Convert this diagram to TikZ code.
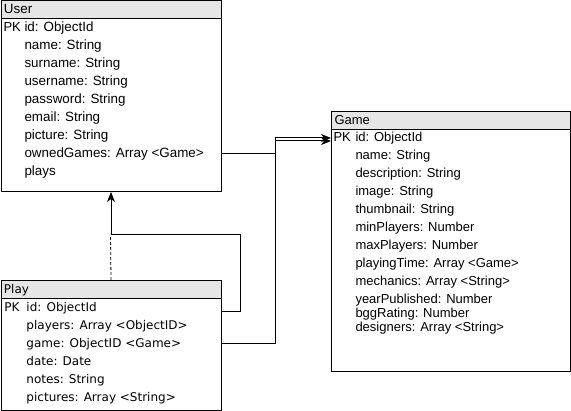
\documentclass[tikz,border=0pt]{standalone}
\usepackage{fontspec}
\setmainfont{Liberation Sans}
\newfontfamily\playfont{DejaVu Sans}
\usetikzlibrary{arrows.meta}

\begin{document}
\begin{tikzpicture}[x=1pt, y=-1pt, line width=1pt]

  % Define Colors
  \definecolor{headgray}{HTML}{E6E6E6}

  % Node styles
  \tikzstyle{tbox}=[rectangle, draw, anchor=north west, inner sep=0pt]
  \tikzstyle{thead}=[rectangle, draw, fill=headgray, anchor=north west, inner xsep=3pt, inner ysep=0pt, minimum height=18, align=left]
  \tikzstyle{fld}=[anchor=base west, inner sep=0pt, text height=10pt, text depth=2pt]
  \tikzstyle{ufld}=[fld, font=\fontsize{13.4}{15}\selectfont]
  \tikzstyle{gfld}=[fld, font=\fontsize{13}{15}\selectfont]
  \tikzstyle{pfld}=[fld, font=\playfont\fontsize{12}{14}\selectfont]

  \tikzstyle{link}=[line width=1pt, -{Stealth[length=10pt, width=8pt, inset=3pt]}]
  \tikzstyle{dlink}=[line width=0.8pt, dash pattern=on 3pt off 2pt]

  \useasboundingbox (0,0) rectangle (571,411);

  % User
  \node[tbox, minimum width=220, minimum height=190.5] (user) at (0.5,0.5) {};
  \node[thead, ufld, anchor=north west, minimum width=220, text width=214] (user_h) at (0.5,0.5) {User};
  \node[gfld] (u_pk) at (3,32) {PK};
  \node[ufld] (u_id) at (24,32) {id: ObjectId};
  \node[ufld] (u_name) at (24,50) {name: String};
  \node[ufld] (u_surname) at (24,68) {surname: String};
  \node[ufld] (u_username) at (24,86) {username: String};
  \node[ufld] (u_password) at (24,104) {password: String};
  \node[ufld] (u_email) at (24,122) {email: String};
  \node[ufld] (u_picture) at (24,140) {picture: String};
  \node[ufld] (u_owned) at (24,158) {ownedGames: Array <Game>};
  \node[ufld] (u_plays) at (24,176) {plays};

  % Game
  \node[tbox, minimum width=239, minimum height=260] (game) at (331,111) {};
  \node[thead, gfld, anchor=north west, minimum width=239, text width=233] (game_h) at (331,111) {Game};
  \node[gfld] (g_pk) at (333,142) {PK};
  \node[gfld] (g_id) at (355,142) {id: ObjectId};
  \node[gfld] (g_name) at (355,160) {name: String};
  \node[gfld] (g_desc) at (355,178) {description: String};
  \node[gfld] (g_image) at (355,196) {image: String};
  \node[gfld] (g_thumb) at (355,214) {thumbnail: String};
  \node[gfld] (g_minp) at (355,232) {minPlayers: Number};
  \node[gfld] (g_maxp) at (355,250) {maxPlayers: Number};
  \node[gfld] (g_time) at (355,268) {playingTime: Array <Game>};
  \node[gfld] (g_mech) at (355,286) {mechanics: Array <String>};
  \node[gfld] (g_year) at (355,304) {yearPublished: Number};
  \node[gfld] (g_rating) at (355,318) {bggRating: Number};
  \node[gfld] (g_design) at (355,332) {designers: Array <String>};

  % Play
  \node[tbox, minimum width=220, minimum height=130] (play) at (0.5,280) {};
  \node[thead, pfld, anchor=north west, minimum width=220, text width=214] (play_h) at (0.5,280) {Play};
  \node[pfld] (p_pk) at (4,312) {PK};
  \node[pfld] (p_id) at (26,312) {id: ObjectId};
  \node[pfld] (p_players) at (26,330) {players: Array <ObjectID>};
  \node[pfld] (p_game) at (26,348) {game: ObjectID <Game>};
  \node[pfld] (p_date) at (26,366) {date: Date};
  \node[pfld] (p_notes) at (26,384) {notes: String};
  \node[pfld] (p_pictures) at (26,402) {pictures: Array <String>};

  % Bends
  \coordinate (j_own) at (275,138);
  \coordinate (j_game) at (275,141);
  \coordinate (j_id) at (240,235);
  \coordinate (j_play) at (110.5,235);

  % Links to Game
  \draw[link] (user.east |- u_owned) -| (j_own) -- (j_own -| game.west);
  \draw[link] (play.east |- p_game) -| (j_game) -- (j_game -| game.west);

  % Links to User
  \draw[dlink] (play.north) -- (j_play);
  \draw[link] (play.east |- p_id.base) -| (j_id) -| (user.south);

\end{tikzpicture}
\end{document}
